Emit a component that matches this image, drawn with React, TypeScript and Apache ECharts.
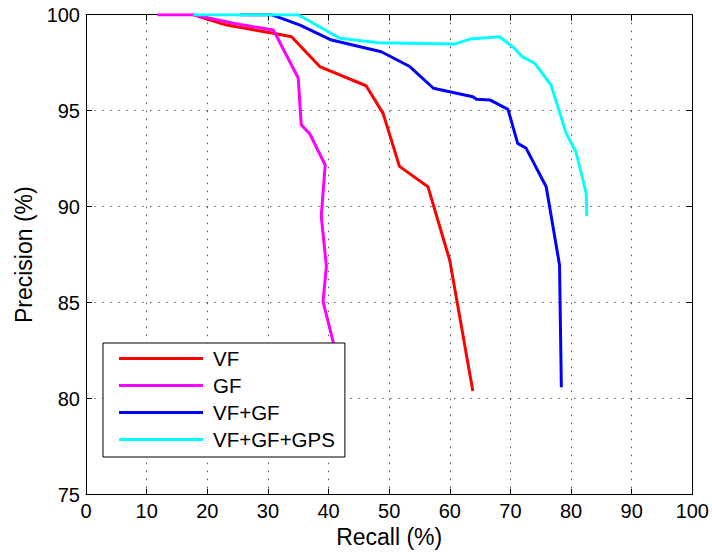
import React, { useEffect, useRef } from "react";
import * as echarts from "echarts";

// Precision–recall curves: recall (%) on x, precision (%) on y
const seriesNames = ["VF", "GF", "VF+GF", "VF+GF+GPS"];
const seriesColors = ["#ff0000", "#ff00ff", "#0000ff", "#00ffff"];

const recallVF = [17.7, 23.2, 30.9, 33.9, 38.55, 46.2, 49.0, 51.7, 56.4, 60.0, 63.8];
const precisionVF = [100, 99.46, 99.03, 98.85, 97.3, 96.3, 94.86, 92.1, 91.04, 87.2, 80.4];

const recallGF = [11.75, 17.7, 24.3, 30.9, 35.0, 35.5, 36.9, 39.45, 38.8, 39.65, 39.1, 40.75, 41.4];
const precisionGF = [100, 100, 99.55, 99.2, 96.7, 94.26, 93.8, 92.17, 89.5, 86.9, 85.05, 82.97, 81.9];

const recallVFGF = [25.4, 30.6, 35.3, 40.5, 48.7, 53.4, 57.3, 63.8, 64.4, 66.6, 69.6, 71.2, 72.6, 75.9, 78.1, 78.4];
const precisionVFGF = [100, 100, 99.46, 98.68, 98.07, 97.3, 96.17, 95.73, 95.6, 95.56, 95.07, 93.3, 93.04, 91.04, 86.96, 80.6];

const recallAll = [17.7, 35.0, 41.85, 48.2, 60.8, 63.3, 68.2, 70.4, 72.0, 74.0, 76.7, 79.2, 80.8, 82.5, 82.6];
const precisionAll = [100, 100, 98.77, 98.54, 98.47, 98.73, 98.85, 98.33, 97.8, 97.47, 96.34, 93.82, 92.86, 90.7, 89.5];

const recallSets = [recallVF, recallGF, recallVFGF, recallAll];
const precisionSets = [precisionVF, precisionGF, precisionVFGF, precisionAll];

const xTicks = { min: 0, max: 100, interval: 10 };
const yTicks = { min: 75, max: 100, interval: 5 };

const FONT = "'Liberation Sans', Arial, Helvetica, sans-serif";

export default function App() {
  const ref = useRef<HTMLDivElement>(null);

  useEffect(() => {
    if (!ref.current) return;
    const chart = echarts.init(ref.current, null, { renderer: "svg" });

    const frameAxis = {
      axisLine: { show: true, onZero: false, lineStyle: { color: "#000", width: 1 } },
      axisTick: { show: true, inside: true, length: 6, lineStyle: { color: "#000" } },
      axisLabel: { show: false },
      splitLine: { show: false },
    };
    const gridLine = {
      show: true,
      lineStyle: { color: "#555", width: 1, type: [1.5, 6.5] as number[] },
    };

    chart.setOption({
      animation: false,
      backgroundColor: "#fff",
      textStyle: { fontFamily: FONT },
      grid: { left: 86, right: 19, top: 14.7, bottom: 59.3, containLabel: false },
      legend: {
        orient: "vertical",
        left: 103,
        top: 343,
        data: seriesNames,
        icon: "rect",
        itemWidth: 84,
        itemHeight: 3,
        itemGap: 6,
        padding: [5, 10, 7, 16],
        backgroundColor: "#fff",
        borderColor: "#000",
        borderWidth: 1,
        borderRadius: 0,
        selectedMode: false,
        textStyle: {
          fontFamily: FONT,
          fontSize: 20.5,
          lineHeight: 20,
          color: "#000",
          padding: [0, 0, 0, 5],
        },
      },
      xAxis: [
        {
          type: "value",
          ...xTicks,
          position: "bottom",
          name: "Recall (%)",
          nameLocation: "middle",
          nameGap: 28,
          nameTextStyle: { fontFamily: FONT, fontSize: 23, color: "#000" },
          axisLine: { show: true, onZero: false, lineStyle: { color: "#000", width: 1 } },
          axisTick: { show: true, inside: true, length: 6, lineStyle: { color: "#000" } },
          axisLabel: { fontFamily: FONT, fontSize: 20, color: "#000", margin: 6 },
          splitLine: gridLine,
        },
        { type: "value", ...xTicks, position: "top", ...frameAxis },
      ],
      yAxis: [
        {
          type: "value",
          ...yTicks,
          position: "left",
          name: "Precision (%)",
          nameLocation: "middle",
          nameGap: 51,
          nameTextStyle: { fontFamily: FONT, fontSize: 23, color: "#000" },
          axisLine: { show: true, onZero: false, lineStyle: { color: "#000", width: 1 } },
          axisTick: { show: true, inside: true, length: 6, lineStyle: { color: "#000" } },
          axisLabel: { fontFamily: FONT, fontSize: 20, color: "#000", margin: 6 },
          splitLine: gridLine,
        },
        { type: "value", ...yTicks, position: "right", ...frameAxis },
      ],
      series: seriesNames.map((name, i) => ({
        name,
        type: "line",
        xAxisIndex: 0,
        yAxisIndex: 0,
        data: recallSets[i].map((r, j) => [r, precisionSets[i][j]]),
        showSymbol: false,
        symbol: "none",
        color: seriesColors[i],
        lineStyle: { color: seriesColors[i], width: 3 },
        z: 2 + i * 0.1,
      })),
    });

    return () => chart.dispose();
  }, []);

  return (
    <div
      ref={ref}
      style={{ position: "fixed", left: 0, top: 0, width: 712, height: 554, background: "#fff" }}
    />
  );
}
